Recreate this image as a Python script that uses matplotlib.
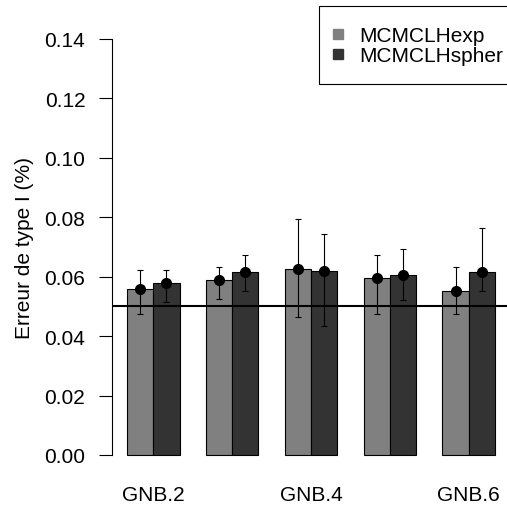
import numpy as np
import matplotlib
matplotlib.use("Agg")
import matplotlib.pyplot as plt
from matplotlib.lines import Line2D
from matplotlib.patches import Rectangle

plt.rcParams["font.family"] = ["Liberation Sans", "DejaVu Sans"]
plt.rcParams["font.size"] = 15

# data
groups = ["GNB.2", "GNB.3", "GNB.4", "GNB.5", "GNB.6"]
shown_labels = ["GNB.2", "", "GNB.4", "", "GNB.6"]
series = ["MCMCLHexp", "MCMCLHspher"]
colors = ["#808080", "#333333"]
mean_exp = [0.0558, 0.0588, 0.0626, 0.0594, 0.0551]
mean_sph = [0.0578, 0.0614, 0.0618, 0.0605, 0.0614]
low_exp = [0.0474, 0.0524, 0.0463, 0.0474, 0.0474]
high_exp = [0.0624, 0.0633, 0.0793, 0.0673, 0.0633]
low_sph = [0.0514, 0.0552, 0.0433, 0.0523, 0.0553]
high_sph = [0.0624, 0.0672, 0.0744, 0.0692, 0.0763]
ref_level = 0.05

W, H = 507, 506
fig = plt.figure(figsize=(W / 100, H / 100), dpi=100)
ax = fig.add_axes([0.2215, 0.066, 0.784, 0.888])

# R barplot(beside=TRUE) layout: space of 1 between groups, bars of width 1
centers = np.arange(len(groups)) * 3 + 2.0
means = [mean_exp, mean_sph]
lows = [low_exp, low_sph]
highs = [high_exp, high_sph]
for i in range(2):
    x = centers + (i - 0.5)
    ax.bar(x, means[i], width=1.0, color=colors[i], edgecolor="black", linewidth=0.8, zorder=2)
    m = np.array(means[i])
    yerr = [m - np.array(lows[i]), np.array(highs[i]) - m]
    ax.errorbar(x, m, yerr=yerr, fmt="o", color="black", markersize=7,
                elinewidth=0.8, capsize=2.5, capthick=0.8, zorder=3)

ax.axhline(ref_level, color="black", linewidth=1.5, zorder=4)

ax.set_xlim(0.44, 15.56)
ax.set_ylim(-0.0056, 0.1456)
ax.set_yticks(np.arange(0, 0.141, 0.02))
ax.set_yticklabels([f"{v:.2f}" for v in np.arange(0, 0.141, 0.02)])
ax.set_xticks(centers)
ax.set_xticklabels(shown_labels)
ax.tick_params(axis="x", length=0, pad=9.5)
ax.tick_params(axis="y", length=9.4, pad=10, width=0.8)
for s in ["top", "right", "bottom"]:
    ax.spines[s].set_visible(False)
ax.spines["left"].set_bounds(0, 0.14)
ax.spines["left"].set_linewidth(0.8)
ax.set_ylabel("Erreur de type I (%)")
ax.yaxis.set_label_coords((34 - 112.3) / 397.6, 0.5)

# legend box like R's legend("topright"), running past the right edge
fig.patches.append(Rectangle((319 / W, 1 - 85 / H), 200 / W, 78 / H, transform=fig.transFigure,
                             facecolor="white", edgecolor="black", linewidth=0.8, zorder=5))
handles = [Line2D([], [], marker="s", linestyle="none", markersize=7.2,
                  markerfacecolor=c, markeredgecolor=c) for c in colors]
leg = fig.legend(handles, series, loc="upper left", bbox_to_anchor=(333 / W, 1 - 27 / H),
                 frameon=False, handletextpad=0.74, borderpad=0, labelspacing=0.05,
                 handlelength=0.5, borderaxespad=0)
leg.set_zorder(6)

fig.savefig("out.png", dpi=100)
plt.close(fig)
